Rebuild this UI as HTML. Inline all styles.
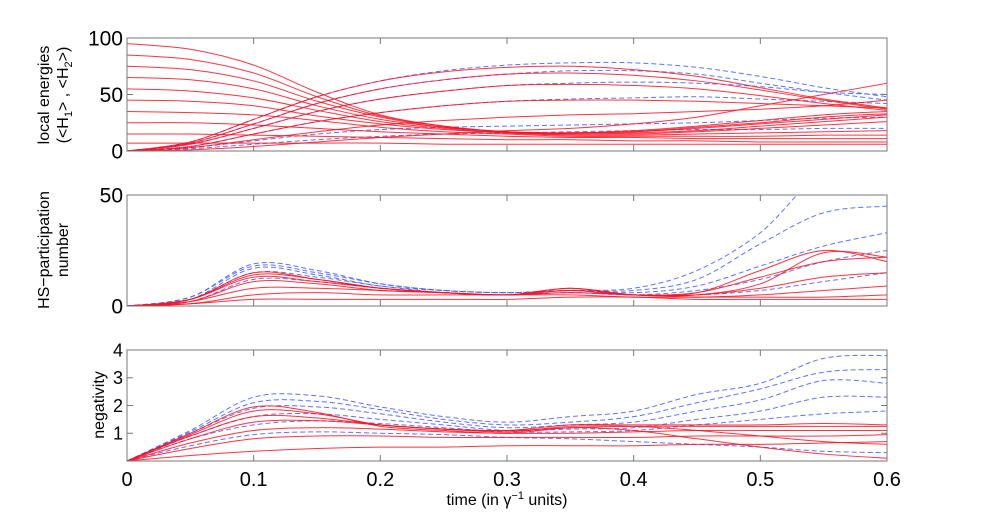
<!DOCTYPE html>
<html><head><meta charset="utf-8"><style>
body{margin:0;background:#fff;}
svg{display:block;font-family:"Liberation Sans",sans-serif;}
</style></head><body>
<svg id="c" width="981" height="518"></svg>
<script>
const times=[0,0.05,0.1,0.15,0.2,0.25,0.3,0.35,0.4,0.45,0.5,0.55,0.6];
const xTicks=[0,0.1,0.2,0.3,0.4,0.5,0.6];
const xTickLabels=["0","0.1","0.2","0.3","0.4","0.5","0.6"];
// panel 1: local energies
const energyRed=[
[95,90,76,52,32,22,17,16,18,22,27,32,35],
[85,81,69,48,31,22,17,16,17,21,25,30,33],
[75,72,62,44,30,21,17,16,17,20,24,28,32],
[65,63,55,40,28,21,17,15,16,18,22,26,30],
[55,53,47,36,26,20,16,15,15,17,20,23,26],
[45,44,40,31,24,19,16,14,14,15,16,17,18],
[35,34,32,27,21,17,15,13,13,13,13,14,14],
[25,25,23,20,17,15,13,12,12,11,11,11,11],
[15,15,14,13,12,11,10,10,9,9,8,8,8],
[7,7,7,7,7,6,6,6,6,6,6,6,6],
[0,8,28,48,62,70,74,75,72,66,56,46,38],
[0,7,24,42,55,63,68,69,67,62,54,45,37],
[0,6,20,35,46,53,58,59,58,55,49,42,36],
[0,4,15,26,34,40,44,45,45,44,42,40,38],
[0,3,10,17,23,27,30,32,33,35,37,40,45],
[0,1,4,8,12,15,18,20,24,30,40,50,60]];
const energyBlue=[
[0,8,28,48,62,71,76,78,78,74,66,56,48],
[0,7,24,42,55,63,68,71,71,68,60,52,45],
[0,6,20,35,46,53,58,60,61,60,57,52,50],
[0,4,15,26,34,40,44,46,47,48,46,44,42],
[0,3,9,15,19,21,22,23,24,25,27,29,30],
[0,2,6,10,13,15,16,17,18,19,19,20,20]];
// panel 2: participation number
const partRed=[
[0,3,15,12,8,6,5,8,5,5,10,24,22],
[0,3,14,12,8,6,5,8,5,6,16,25,20],
[0,3,13,11,8,6,5,7,5,6,13,20,22],
[0,2,11,10,7,6,5,7,5,5,8,13,15],
[0,2,8,8,7,6,5,6,5,4,5,7,9],
[0,1,5,6,5,5,5,5,4,4,4,4,5],
[0,1,3,3,3,3,3,4,4,3,3,3,3]];
const partBlue=[
[0,4,19,16,10,7,6,7,8,16,33,60,60],
[0,4,18,15,10,7,6,7,7,12,28,42,45],
[0,3,17,14,9,7,6,7,6,9,18,27,33],
[0,3,15,13,9,6,5,6,5,7,12,20,25],
[0,2,12,11,8,6,5,6,5,5,7,11,15]];
// panel 3: negativity
const negRed=[
[0,1.0,1.95,1.75,1.25,1.1,1.0,1.2,1.1,0.8,0.5,0.25,0.1],
[0,0.95,1.8,1.7,1.3,1.15,1.05,1.25,1.25,1.1,0.9,0.7,0.6],
[0,0.9,1.6,1.55,1.3,1.15,1.1,1.3,1.3,1.3,1.3,1.35,1.3],
[0,0.8,1.4,1.45,1.3,1.15,1.1,1.2,1.25,1.25,1.25,1.25,1.25],
[0,0.65,1.1,1.2,1.15,1.05,1.0,1.0,1.05,1.1,1.1,1.1,1.1],
[0,0.45,0.8,0.9,0.9,0.85,0.85,0.85,0.85,0.9,0.9,0.9,0.95],
[0,0.2,0.35,0.45,0.5,0.5,0.55,0.55,0.55,0.6,0.6,0.65,0.7]];
const negBlue=[
[0,1.1,2.3,2.35,1.95,1.6,1.4,1.6,1.8,2.4,2.8,3.7,3.8],
[0,1.05,2.1,2.15,1.85,1.5,1.3,1.4,1.6,2.1,2.6,3.2,3.3],
[0,1.0,1.9,1.95,1.7,1.4,1.2,1.3,1.4,1.8,2.2,2.9,2.8],
[0,0.9,1.6,1.7,1.5,1.3,1.1,1.15,1.2,1.5,1.8,2.3,2.3],
[0,0.8,1.3,1.45,1.35,1.2,1.05,1.05,1.1,1.3,1.5,1.7,1.8],
[0,0.55,0.95,1.05,1.0,0.95,0.85,0.8,0.7,0.6,0.5,0.35,0.3]];

const NS="http://www.w3.org/2000/svg";
const svg=document.getElementById('c');
const X0=127,X1=887;
const xs=t=>X0+(t/0.6)*(X1-X0);
function mk(tag,attrs,parent){const e=document.createElementNS(NS,tag);for(const k in attrs)e.setAttribute(k,attrs[k]);(parent||svg).appendChild(e);return e;}
function path(pts){let d="M"+pts[0][0]+","+pts[0][1];for(let i=0;i<pts.length-1;i++){const p0=pts[Math.max(0,i-1)],p1=pts[i],p2=pts[i+1],p3=pts[Math.min(pts.length-1,i+2)];d+=" C"+(p1[0]+(p2[0]-p0[0])/6)+","+(p1[1]+(p2[1]-p0[1])/6)+" "+(p2[0]-(p3[0]-p1[0])/6)+","+(p2[1]-(p3[1]-p1[1])/6)+" "+p2[0]+","+p2[1];}return d;}
let pid=0;
function panel(name,top,bot,ymax,yticks,reds,blues,fs){
  const ys=v=>bot-(v/ymax)*(bot-top);
  const g=mk('g',{});
  
  
  const cid='clip'+(pid++);
  const cp=mk('clipPath',{id:cid},g);mk('rect',{x:X0,y:top,width:X1-X0,height:bot-top},cp);
  const lines=mk('g',{'clip-path':'url(#'+cid+')'},g);
  blues.forEach(s=>{const p=mk('path',{d:path(s.map((v,i)=>[xs(times[i]),ys(v)])),fill:'none',stroke:'#4a63ff','stroke-width':1,'stroke-dasharray':'5,3','stroke-opacity':0.9},lines);
    
    });
  reds.forEach(s=>{const p=mk('path',{d:path(s.map((v,i)=>[xs(times[i]),ys(v)])),fill:'none',stroke:'#ff1020','stroke-width':1,'stroke-opacity':0.85},lines);
    
    });
  const fr=mk('rect',{x:X0,y:top,width:X1-X0,height:bot-top,fill:'none',stroke:'#777','stroke-width':1},g);
  
  
  xTicks.forEach(t=>{mk('line',{x1:xs(t),x2:xs(t),y1:bot,y2:bot-6,stroke:'#777'},g);mk('line',{x1:xs(t),x2:xs(t),y1:top,y2:top+6,stroke:'#777'},g);});
  yticks.forEach(v=>{mk('line',{x1:X0,x2:X0+6,y1:ys(v),y2:ys(v),stroke:'#777'},g);mk('line',{x1:X1,x2:X1-6,y1:ys(v),y2:ys(v),stroke:'#777'},g);
    const tx=mk('text',{x:X0-4,y:ys(v)+fs*0.36,'text-anchor':'end','font-size':fs,fill:'#000'},g);tx.textContent=String(v);
    
    });
  return g;
}
panel('energies-panel',38,151,100,[0,50,100],energyRed,energyBlue,21);
panel('participation-panel',195,306,50,[0,50],partRed,partBlue,21);
panel('negativity-panel',350,461,4,[1,2,3,4],negRed,negBlue,18);
xTicks.forEach((t,i)=>{const tx=mk('text',{x:xs(t),y:486,'text-anchor':'middle','font-size':20,fill:'#000'});tx.textContent=xTickLabels[i];
  
  });
</script>
<svg width="981" height="518" style="position:absolute;left:0;top:0;pointer-events:none">
<text x="507" y="505" text-anchor="middle" font-size="16" font-family="Liberation Sans,sans-serif">time (in γ<tspan dy="-6" font-size="11">−1</tspan><tspan dy="6"> units)</tspan></text>
<g transform="translate(49,95) rotate(-90)">
<text x="0" y="0" text-anchor="middle" font-size="16" font-family="Liberation Sans,sans-serif">local energies</text>
<text x="0" y="19" text-anchor="middle" font-size="16" font-family="Liberation Sans,sans-serif">(&lt;H<tspan dy="4" font-size="11">1</tspan><tspan dy="-4">&gt; , &lt;H</tspan><tspan dy="4" font-size="11">2</tspan><tspan dy="-4">&gt;)</tspan></text>
</g>
<g transform="translate(49,250) rotate(-90)">
<text x="0" y="0" text-anchor="middle" font-size="16" font-family="Liberation Sans,sans-serif">HS−participation</text>
<text x="0" y="19" text-anchor="middle" font-size="16" font-family="Liberation Sans,sans-serif">number</text>
</g>
<g transform="translate(104,405) rotate(-90)">
<text x="0" y="0" text-anchor="middle" font-size="16" font-family="Liberation Sans,sans-serif">negativity</text>
</g>
</svg>
</body></html>
